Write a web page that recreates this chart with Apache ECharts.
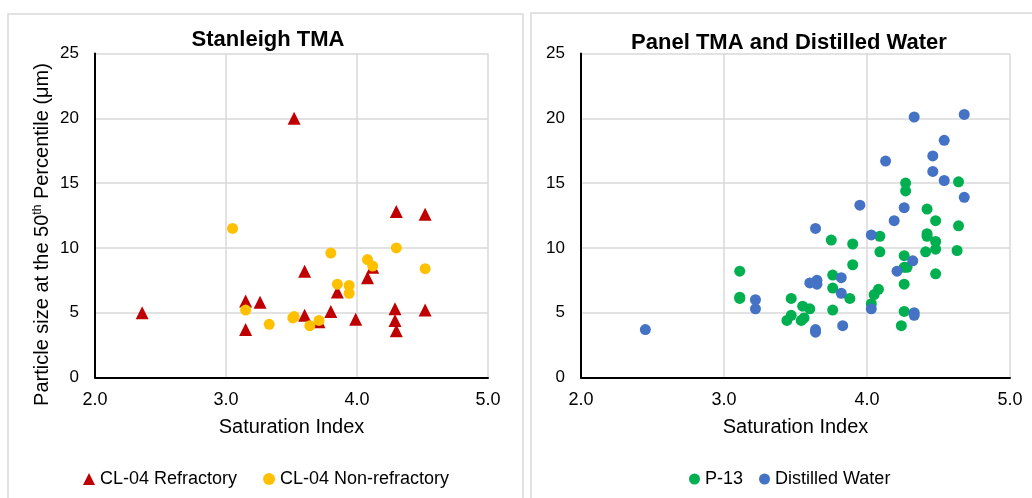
<!DOCTYPE html>
<html>
<head>
<meta charset="utf-8">
<script src="https://cdn.jsdelivr.net/npm/echarts@6/dist/echarts.min.js"></script>
<style>
  html, body { margin: 0; padding: 0; background: #fff; }
  #Map { width: 1032px; height: 498px; }
</style>
</head>
<body>
<div id="Map"></div>
<script>
// data: [saturation index, particle size]
var refractory = [
  [2.36, 5.0], [3.52, 20.0], [3.15, 5.9], [3.15, 3.7], [3.26, 5.8],
  [3.60, 8.2], [3.60, 4.8], [3.71, 4.3], [3.80, 5.1], [3.85, 6.6],
  [3.99, 4.5], [4.08, 7.7], [4.12, 8.5], [4.30, 12.8], [4.29, 5.3],
  [4.29, 4.4], [4.30, 3.6], [4.52, 12.6], [4.52, 5.2]
];
var nonRefractory = [
  [3.05, 11.5], [3.15, 5.2], [3.33, 4.1], [3.52, 4.7], [3.51, 4.6],
  [3.64, 4.0], [3.71, 4.4], [3.80, 9.6], [3.85, 7.2], [3.94, 7.1],
  [3.94, 6.5], [4.08, 9.1], [4.12, 8.6], [4.30, 10.0], [4.52, 8.4]
];
var p13 = [
  [3.11, 8.2], [3.11, 6.2], [3.11, 6.1], [3.47, 6.1], [3.44, 4.4],
  [3.47, 4.8], [3.54, 4.4], [3.56, 4.6], [3.55, 5.5], [3.60, 5.3],
  [3.75, 10.6], [3.76, 7.9], [3.76, 6.9], [3.76, 5.2], [3.88, 6.1],
  [3.90, 10.3], [3.90, 8.7], [4.09, 10.9], [4.09, 9.7], [4.08, 6.8],
  [4.05, 6.4], [4.03, 5.7], [4.27, 15.0], [4.27, 14.4], [4.26, 9.4],
  [4.26, 8.5], [4.28, 8.5], [4.26, 7.2], [4.26, 5.1], [4.24, 4.0],
  [4.42, 13.0], [4.48, 12.1], [4.42, 11.1], [4.42, 10.9], [4.48, 10.5],
  [4.48, 9.9], [4.41, 9.7], [4.48, 8.0], [4.64, 15.1], [4.64, 11.7],
  [4.63, 9.8]
];
var distilled = [
  [2.45, 3.7], [3.22, 6.0], [3.22, 5.3], [3.64, 11.5], [3.60, 7.3],
  [3.65, 7.5], [3.65, 7.2], [3.64, 3.7], [3.64, 3.5], [3.82, 7.7],
  [3.82, 6.5], [3.83, 4.0], [3.95, 13.3], [4.03, 11.0], [4.03, 5.3],
  [4.13, 16.7], [4.19, 12.1], [4.26, 13.1], [4.21, 8.2], [4.32, 9.0],
  [4.33, 20.1], [4.33, 5.0], [4.33, 4.8], [4.46, 17.1], [4.46, 15.9],
  [4.54, 18.3], [4.54, 15.2], [4.68, 20.3], [4.68, 13.9]
];
var xTicks = [2, 3, 4, 5];
var yTicks = [0, 5, 10, 15, 20, 25];

var myChart = echarts.init(document.getElementById("Map"));

var font = 'Liberation Sans, Arial, sans-serif';
var gridColor = '#d9d9d9';

function xAxisFor(idx) {
  return {
    gridIndex: idx,
    type: 'value',
    min: xTicks[0],
    max: xTicks[xTicks.length - 1],
    interval: 1,
    name: 'Saturation Index',
    nameLocation: 'middle',
    nameGap: 40,
    nameTextStyle: { color: '#000', fontSize: 20, fontFamily: font },
    axisLine: { show: true, onZero: false, lineStyle: { color: '#000', width: 2 } },
    axisTick: { show: false },
    axisLabel: { color: '#000', fontSize: 18, fontFamily: font, margin: 14,
      formatter: function (v) { return v.toFixed(1); } },
    splitLine: { show: true, lineStyle: { color: gridColor, width: 1.5 } }
  };
}
function yAxisFor(idx, named) {
  var ax = {
    gridIndex: idx,
    type: 'value',
    min: yTicks[0],
    max: yTicks[yTicks.length - 1],
    interval: 5,
    axisLine: { show: true, onZero: false, lineStyle: { color: '#000', width: 2 } },
    axisTick: { show: false },
    axisLabel: { color: '#000', fontSize: 17, fontFamily: font, margin: 16 },
    splitLine: { show: true, lineStyle: { color: gridColor, width: 1.5 } }
  };
  if (named) {
    ax.name = 'Particle size at the 50{sup|th} Percentile (μm)';
    ax.nameLocation = 'middle';
    ax.nameRotate = 90;
    ax.nameGap = 42;
    ax.nameTextStyle = {
      color: '#000', fontSize: 20, fontFamily: font, padding: [0, 38, 0, 0],
      rich: { sup: { fontSize: 12, fontFamily: font, color: '#000', verticalAlign: 'top', padding: [0, 0, 9, 0] } }
    };
  }
  return ax;
}

var option = {
  animation: false,
  backgroundColor: '#fff',
  graphic: [
    { type: 'rect', shape: { x: 8, y: 14, width: 515, height: 500 },
      style: { fill: 'none', stroke: gridColor, lineWidth: 1.5 }, z: -1 },
    { type: 'rect', shape: { x: 531, y: 13, width: 520, height: 500 },
      style: { fill: 'none', stroke: gridColor, lineWidth: 1.5 }, z: -1 }
  ],
  title: [
    { text: 'Stanleigh TMA', left: 263, top: 24, textAlign: 'center',
      textStyle: { fontSize: 22, fontWeight: 'bold', color: '#000', fontFamily: font } },
    { text: 'Panel TMA and Distilled Water', left: 784, top: 27, textAlign: 'center',
      textStyle: { fontSize: 22, fontWeight: 'bold', color: '#000', fontFamily: font } }
  ],
  legend: [
    { data: ['CL-04 Refractory', 'CL-04 Non-refractory'], left: 78, top: 465,
      itemWidth: 12, itemHeight: 12, itemGap: 26,
      textStyle: { fontSize: 18, color: '#000', fontFamily: font } },
    { data: ['P-13', 'Distilled Water'], left: 684, top: 465,
      itemWidth: 11, itemHeight: 11, itemGap: 16,
      textStyle: { fontSize: 18, color: '#000', fontFamily: font } }
  ],
  grid: [
    { left: 95, top: 53.5, width: 393, height: 324 },
    { left: 581, top: 53.5, width: 429, height: 324 }
  ],
  xAxis: [xAxisFor(0), xAxisFor(1)],
  yAxis: [yAxisFor(0, true), yAxisFor(1, false)],
  series: [
    { name: 'CL-04 Refractory', type: 'scatter', xAxisIndex: 0, yAxisIndex: 0,
      symbol: 'triangle', symbolSize: 13, itemStyle: { color: '#C00000', opacity: 1 },
      data: refractory },
    { name: 'CL-04 Non-refractory', type: 'scatter', xAxisIndex: 0, yAxisIndex: 0,
      symbol: 'circle', symbolSize: 11, itemStyle: { color: '#FFC000', opacity: 1 },
      data: nonRefractory },
    { name: 'P-13', type: 'scatter', xAxisIndex: 1, yAxisIndex: 1,
      symbol: 'circle', symbolSize: 11, itemStyle: { color: '#00B050', opacity: 1 },
      data: p13 },
    { name: 'Distilled Water', type: 'scatter', xAxisIndex: 1, yAxisIndex: 1,
      symbol: 'circle', symbolSize: 11, itemStyle: { color: '#4472C4', opacity: 1 },
      data: distilled }
  ]
};
myChart.setOption(option);
</script>
</body>
</html>
